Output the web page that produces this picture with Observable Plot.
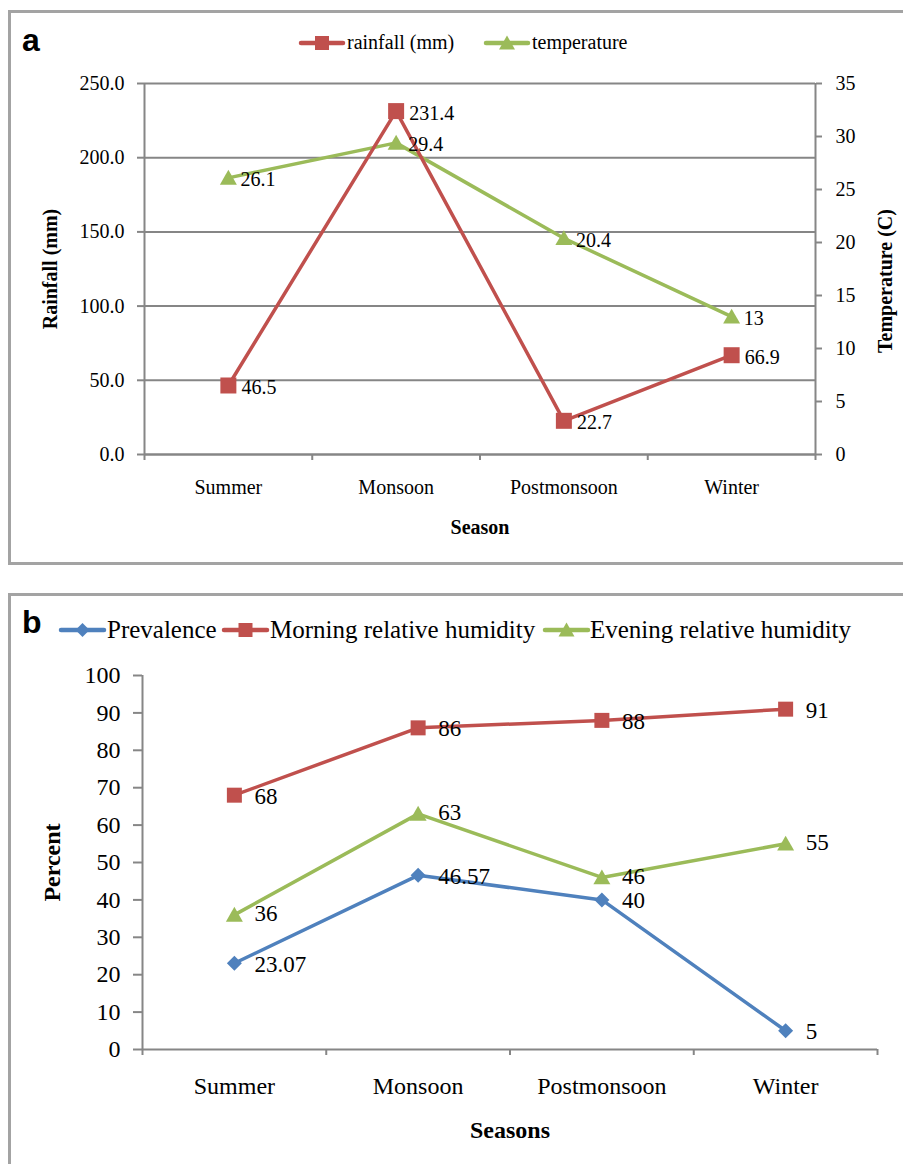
<!DOCTYPE html>
<html><head><meta charset="utf-8">
<script src="https://cdn.jsdelivr.net/npm/d3@7"></script>
<script src="https://cdn.jsdelivr.net/npm/@observablehq/plot@0.6"></script>
<style>
body{margin:0;width:903px;height:1164px;position:relative;overflow:hidden;background:#fff;font-family:"Liberation Serif","Times New Roman",serif;}
.box{position:absolute;border:3px solid #a3a3a3;box-sizing:border-box;}
.abs{position:absolute;left:0;}
.tag{position:absolute;font-family:"Liberation Sans",Arial,sans-serif;font-weight:bold;font-size:32px;line-height:1;}
</style></head><body>
<div class="box" style="left:8px;top:10px;width:1000px;height:555px"></div>
<div class="box" style="left:8px;top:593px;width:1000px;height:700px"></div>
<div id="a" class="abs" style="top:0"></div>
<div id="b" class="abs" style="top:590px"></div>
<div class="tag" style="left:22px;top:24px">a</div>
<div class="tag" style="left:22px;top:606px">b</div>
<svg id="legA" class="abs" style="top:0" width="903" height="70"></svg>
<svg id="legB" class="abs" style="top:600px" width="903" height="60"></svg>
<script>
// ---- data ----
const seasons = ["Summer", "Monsoon", "Postmonsoon", "Winter"];
const rainfall = [46.5, 231.4, 22.7, 66.9];
const temperature = [26.1, 29.4, 20.4, 13];
const rainTicks = [0, 50, 100, 150, 200, 250];
const tempTicks = [0, 5, 10, 15, 20, 25, 30, 35];
const prevalence = [23.07, 46.57, 40, 5];
const morningRH = [68, 86, 88, 91];
const eveningRH = [36, 63, 46, 55];
const pctTicks = [0, 10, 20, 30, 40, 50, 60, 70, 80, 90, 100];

// ---- style ----
const red = "#C0504D", green = "#9BBB59", blue = "#4F81BD", gray = "#868686";
const serif = "'Liberation Serif','Times New Roman',serif";
const sq = {draw(ctx, size){const r = Math.sqrt(size/Math.PI); ctx.rect(-r, -r, 2*r, 2*r);}};
const tri = {draw(ctx, size){const r = Math.sqrt(size/Math.PI); ctx.moveTo(0, -0.95*r); ctx.lineTo(r, 0.8*r); ctx.lineTo(-r, 0.8*r); ctx.closePath();}};
const dia = {draw(ctx, size){const r = Math.sqrt(size/Math.PI); ctx.moveTo(0, -r); ctx.lineTo(r, 0); ctx.lineTo(0, r); ctx.lineTo(-r, 0); ctx.closePath();}};

// ---- panel a ----
const k = 250 / 35; // temperature -> rainfall axis
const rowsA = seasons.map((s, i) => ({season: s, pos: i + 0.5, rain: rainfall[i], temp: temperature[i], tempS: temperature[i] * k}));
const plotA = Plot.plot({
  width: 903, height: 570,
  marginLeft: 144, marginRight: 88, marginTop: 83, marginBottom: 116,
  style: {background: "transparent", fontFamily: serif, fontSize: "20px", color: "#000", overflow: "visible"},
  x: {domain: [0, 4], axis: null},
  y: {domain: [0, 250], axis: null},
  marks: [
    Plot.ruleY(rainTicks.slice(1), {stroke: gray, strokeWidth: 2}),
    Plot.ruleX([0, 4], {stroke: gray, strokeWidth: 2}),
    Plot.ruleY([0], {stroke: gray, strokeWidth: 2.5}),
    Plot.axisY({ticks: rainTicks, tickFormat: d3.format(".1f"), tickSize: 7, tickPadding: 13, stroke: gray, strokeWidth: 2, fontSize: 20, label: null}),
    Plot.axisY({anchor: "right", ticks: tempTicks.map(t => t * k), tickFormat: v => String(Math.round(v / k)), tickSize: 6, tickPadding: 14, stroke: gray, strokeWidth: 2, fontSize: 20, label: null}),
    Plot.axisX({ticks: [0, 1, 2, 3, 4], tickFormat: () => "", tickSize: 6, stroke: gray, strokeWidth: 2, label: null}),
    Plot.text(rowsA, {x: "pos", text: "season", frameAnchor: "bottom", dy: 39, fontSize: 20}),
    Plot.text(["Season"], {frameAnchor: "bottom", dy: 79, fontSize: 20, fontWeight: "bold"}),
    Plot.text(["Rainfall (mm)"], {frameAnchor: "left", dx: -94, rotate: -90, textAnchor: "middle", fontSize: 20, fontWeight: "bold"}),
    Plot.text(["Temperature (C)"], {frameAnchor: "right", dx: 70, dy: 12, rotate: -90, textAnchor: "middle", fontSize: 20, fontWeight: "bold"}),
    Plot.line(rowsA, {x: "pos", y: "tempS", stroke: green, strokeWidth: 3.5}),
    Plot.line(rowsA, {x: "pos", y: "rain", stroke: red, strokeWidth: 3.5}),
    Plot.dot(rowsA, {x: "pos", y: "tempS", symbol: tri, r: 8.5, fill: green, stroke: "none"}),
    Plot.dot(rowsA, {x: "pos", y: "rain", symbol: sq, r: 8, fill: red, stroke: "none"}),
    Plot.text(rowsA, {x: "pos", y: "tempS", text: d => String(d.temp), dx: 12, dy: 2, textAnchor: "start", fontSize: 20}),
    Plot.text(rowsA, {x: "pos", y: "rain", text: d => String(d.rain), dx: 13, dy: 2, textAnchor: "start", fontSize: 20})
  ]
});
document.getElementById("a").append(plotA);

// ---- panel b ----
const rowsB = seasons.map((s, i) => ({season: s, pos: i + 0.5, prev: prevalence[i], morn: morningRH[i], eve: eveningRH[i]}));
const plotB = Plot.plot({
  width: 903, height: 574,
  marginLeft: 142, marginRight: 26, marginTop: 85, marginBottom: 115,
  style: {background: "transparent", fontFamily: serif, fontSize: "24px", color: "#000", overflow: "visible"},
  x: {domain: [0, 4], axis: null},
  y: {domain: [0, 100], axis: null},
  marks: [
    Plot.ruleX([0], {stroke: gray, strokeWidth: 2}),
    Plot.ruleY([0], {stroke: gray, strokeWidth: 2}),
    Plot.axisY({ticks: pctTicks, tickFormat: d3.format("d"), tickSize: 9, tickPadding: 13, stroke: gray, strokeWidth: 2, fontSize: 24, label: null}),
    Plot.axisX({ticks: [0, 1, 2, 3, 4], tickFormat: () => "", tickSize: 6, stroke: gray, strokeWidth: 2, label: null}),
    Plot.text(rowsB, {x: "pos", text: "season", frameAnchor: "bottom", dy: 44, fontSize: 24}),
    Plot.text(["Seasons"], {frameAnchor: "bottom", dy: 88, fontSize: 24, fontWeight: "bold"}),
    Plot.text(["Percent"], {frameAnchor: "left", dx: -90, rotate: -90, textAnchor: "middle", fontSize: 24, fontWeight: "bold"}),
    Plot.line(rowsB, {x: "pos", y: "prev", stroke: blue, strokeWidth: 3.5}),
    Plot.line(rowsB, {x: "pos", y: "morn", stroke: red, strokeWidth: 3.5}),
    Plot.line(rowsB, {x: "pos", y: "eve", stroke: green, strokeWidth: 3.5}),
    Plot.dot(rowsB, {x: "pos", y: "prev", symbol: dia, r: 7.5, fill: blue, stroke: "none"}),
    Plot.dot(rowsB, {x: "pos", y: "morn", symbol: sq, r: 7.5, fill: red, stroke: "none"}),
    Plot.dot(rowsB, {x: "pos", y: "eve", symbol: tri, r: 8.5, fill: green, stroke: "none"}),
    Plot.text(rowsB, {x: "pos", y: "prev", text: d => String(d.prev), dx: 20, dy: 1, textAnchor: "start", fontSize: 23}),
    Plot.text(rowsB, {x: "pos", y: "morn", text: d => String(d.morn), dx: 20, dy: 1, textAnchor: "start", fontSize: 23}),
    Plot.text(rowsB, {x: "pos", y: "eve", text: d => String(d.eve), dx: 20, dy: -1, textAnchor: "start", fontSize: 23})
  ]
});
document.getElementById("b").append(plotB);

// ---- legends ----
const symPath = (sym, r) => d3.symbol(sym, Math.PI * r * r)();
function legend(id, items, cy, fontSize) {
  const svg = d3.select("#" + id);
  for (const it of items) {
    const g = svg.append("g");
    g.append("line").attr("x1", it.x0).attr("x2", it.x1).attr("y1", cy).attr("y2", cy)
      .attr("stroke", it.color).attr("stroke-width", 4.5).attr("stroke-linecap", "round");
    g.append("path").attr("d", symPath(it.sym, it.r)).attr("fill", it.color)
      .attr("transform", `translate(${(it.x0 + it.x1) / 2},${cy})`);
    g.append("text").attr("x", it.tx).attr("y", cy).attr("dy", "0.32em")
      .attr("font-family", serif).attr("font-size", fontSize).text(it.label);
  }
}
legend("legA", [
  {label: "rainfall (mm)", color: red, sym: sq, r: 7, x0: 301, x1: 343, tx: 347},
  {label: "temperature", color: green, sym: tri, r: 8, x0: 486, x1: 528, tx: 532}
], 43, 20);
legend("legB", [
  {label: "Prevalence", color: blue, sym: dia, r: 7, x0: 61, x1: 104, tx: 107},
  {label: "Morning relative humidity", color: red, sym: sq, r: 7, x0: 224, x1: 267, tx: 270},
  {label: "Evening relative humidity", color: green, sym: tri, r: 8, x0: 545, x1: 588, tx: 590}
], 30, 25);
</script>
</body></html>
